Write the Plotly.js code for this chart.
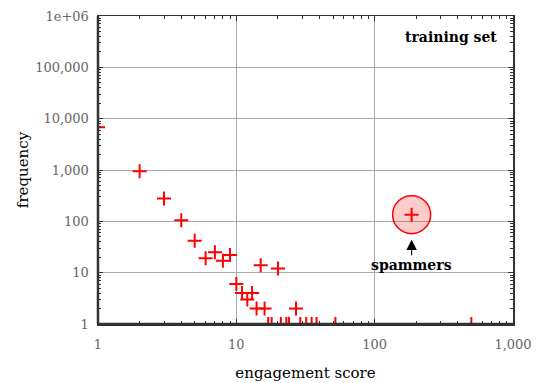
<!DOCTYPE html>
<html>
<head>
<meta charset="utf-8">
<script src="https://cdn.plot.ly/plotly-3.0.1.min.js"></script>
<style>html,body{margin:0;padding:0;background:#fff;}#chart{width:541px;height:383px;}</style>
</head>
<body>
<div id="chart"></div>
<script>
// engagement score (x) and frequency (y)
const engagementScore = [1, 2, 3, 4, 5, 6, 7, 8, 9, 10, 11, 12, 13, 14, 15, 16, 17, 18, 20, 21, 23, 24, 27, 29, 32, 35, 38, 52, 185, 500];
const frequency       = [6800, 950, 280, 105, 42, 19, 25, 17, 22, 6, 4, 3, 4, 2, 14, 2, 1, 1, 12, 1, 1, 1, 2, 1, 1, 1, 1, 1, 135, 1];
const spammerIndex = 28;

const xTickVals = [1, 10, 100, 1000];
const xTickText = ['1', '10', '100', '1,000'];
const yTickVals = [1, 10, 100, 1000, 10000, 100000, 1000000];
const yTickText = ['1', '10', '100', '1,000', '10,000', '100,000', '1e+06'];

const FONT = 'DejaVu Serif, serif';
const spamX = engagementScore[spammerIndex];
const spamY = frequency[spammerIndex];

const highlight = {
  x: [spamX],
  y: [spamY],
  type: 'scatter',
  mode: 'markers',
  marker: {symbol: 'circle', size: 38, color: 'rgba(255,0,0,0.2)', line: {color: '#ff0000', width: 1.5}},
  showlegend: false,
  hoverinfo: 'skip'
};

const trace = {
  x: engagementScore,
  y: frequency,
  type: 'scatter',
  mode: 'markers',
  marker: {symbol: 'cross-thin', size: 10, color: '#ff0000', line: {color: '#ff0000', width: 2}},
  cliponaxis: true,
  showlegend: false,
  hoverinfo: 'x+y'
};

const axisCommon = {
  type: 'log',
  showline: true,
  linecolor: '#333',
  linewidth: 1.5,
  mirror: 'allticks',
  ticks: 'inside',
  ticklen: 5,
  tickwidth: 1,
  tickcolor: '#333',
  showgrid: true,
  gridcolor: '#aaaaaa',
  gridwidth: 1,
  zeroline: false,
  tickfont: {family: FONT, size: 13, color: '#666'},
  minor: {dtick: 'D1', ticks: 'inside', ticklen: 3, tickcolor: '#333', tickwidth: 1, showgrid: false}
};

const layout = {
  width: 541,
  height: 383,
  margin: {l: 98, r: 28, t: 16, b: 59},
  paper_bgcolor: '#fff',
  plot_bgcolor: '#fff',
  font: {family: FONT},
  xaxis: Object.assign({}, axisCommon, {
    range: [0, 3],
    tickmode: 'array', tickvals: xTickVals, ticktext: xTickText,
    ticklabelstandoff: 8,
    title: {text: 'engagement score', font: {family: FONT, size: 15, color: '#000'}, standoff: 16}
  }),
  yaxis: Object.assign({}, axisCommon, {
    range: [0, 6],
    tickmode: 'array', tickvals: yTickVals, ticktext: yTickText,
    ticklabelstandoff: 5,
    title: {text: 'frequency', font: {family: FONT, size: 15, color: '#000'}, standoff: 3}
  }),
  shapes: [
    {type: 'line', xref: 'paper', yref: 'paper', x0: 0, x1: 0, y0: 0, y1: 1, line: {color: '#333', width: 2.5}},
    {type: 'line', xref: 'paper', yref: 'paper', x0: 0, x1: 1, y0: 0, y1: 0, line: {color: '#333', width: 2.5}}
  ],
  annotations: [
    {xref: 'paper', yref: 'paper', x: 1, y: 1, xanchor: 'right', yanchor: 'top', xshift: -14, yshift: -11,
     text: '<b>training set</b>', showarrow: false, font: {family: FONT, size: 14, color: '#000'}},
    {xref: 'x', yref: 'y', x: Math.log10(spamX), y: Math.log10(spamY), text: '<b>spammers</b>',
     showarrow: true, ax: 0, ay: 50, arrowhead: 2, arrowsize: 1.9, arrowwidth: 1.1, arrowcolor: '#000',
     standoff: 25, font: {family: FONT, size: 14, color: '#000'}}
  ]
};

Plotly.newPlot('chart', [highlight, trace], layout, {displayModeBar: false, staticPlot: true});
</script>
</body>
</html>
